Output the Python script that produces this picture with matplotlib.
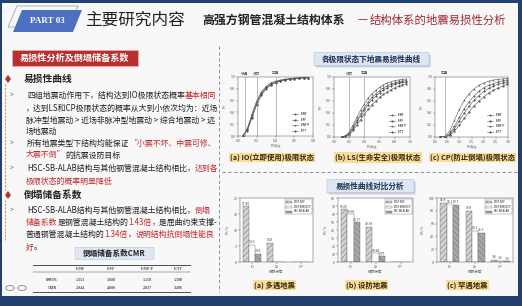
import numpy as np
import matplotlib
matplotlib.use("Agg")
import matplotlib.pyplot as plt
from matplotlib.patches import Rectangle, Polygon, FancyBboxPatch
from matplotlib.lines import Line2D

plt.rcParams['font.family'] = ['Noto Sans CJK SC', 'DejaVu Sans']
plt.rcParams['hatch.linewidth'] = 0.3

W, H = 522, 306
RED = '#c0282d'
DARK = '#222222'
NAVY = '#23416f'

# ---- 数据 ----
series_names = ['E-NF', 'E-FF', 'E-NF-P', 'E-TT']

io_x = [0.05, 0.1, 0.15, 0.2, 0.25, 0.3, 0.35, 0.4, 0.45, 0.5, 0.55, 0.6, 0.65, 0.7, 0.75]
io_nf = [0.0, 0.12, 0.36, 0.58, 0.73, 0.83, 0.89, 0.92, 0.94, 0.96, 0.97, 0.98, 0.98, 0.99, 0.99]
io_ff = [0.0, 0.10, 0.33, 0.55, 0.71, 0.81, 0.87, 0.91, 0.94, 0.95, 0.97, 0.97, 0.98, 0.99, 0.99]
io_nfp = [0.0, 0.13, 0.38, 0.60, 0.75, 0.84, 0.90, 0.93, 0.95, 0.96, 0.97, 0.98, 0.99, 0.99, 0.99]
io_tt = [0.0, 0.09, 0.31, 0.53, 0.69, 0.80, 0.86, 0.90, 0.93, 0.95, 0.96, 0.97, 0.98, 0.98, 0.99]

ls_x = [0.1, 0.15, 0.2, 0.25, 0.3, 0.35, 0.4, 0.45, 0.5, 0.55, 0.6, 0.65, 0.7, 0.75, 0.8, 0.85, 0.9, 0.95]
ls_nf = [0, 0.01, 0.06, 0.16, 0.28, 0.39, 0.49, 0.58, 0.66, 0.72, 0.77, 0.82, 0.85, 0.88, 0.90, 0.92, 0.93, 0.94]
ls_ff = [0, 0.01, 0.04, 0.11, 0.20, 0.29, 0.38, 0.46, 0.54, 0.60, 0.66, 0.71, 0.75, 0.79, 0.82, 0.85, 0.87, 0.89]
ls_nfp = [0, 0.02, 0.08, 0.20, 0.33, 0.45, 0.55, 0.65, 0.72, 0.78, 0.83, 0.87, 0.90, 0.92, 0.94, 0.95, 0.96, 0.97]
ls_tt = [0, 0.01, 0.05, 0.14, 0.25, 0.35, 0.45, 0.54, 0.62, 0.68, 0.74, 0.78, 0.82, 0.85, 0.88, 0.90, 0.91, 0.92]

cp_x = [0.2, 0.4, 0.6, 0.8, 1.0, 1.2, 1.4, 1.6, 1.8, 2.0, 2.2, 2.4, 2.6, 2.8, 2.95]
cp_nf = [0, 0.0, 0.06, 0.18, 0.33, 0.47, 0.59, 0.68, 0.76, 0.82, 0.86, 0.89, 0.92, 0.94, 0.95]
cp_ff = [0, 0, 0.03, 0.10, 0.20, 0.31, 0.42, 0.52, 0.60, 0.67, 0.73, 0.78, 0.82, 0.85, 0.88]
cp_nfp = [0, 0.01, 0.10, 0.28, 0.46, 0.61, 0.72, 0.80, 0.86, 0.90, 0.93, 0.95, 0.96, 0.97, 0.98]
cp_tt = [0, 0, 0.04, 0.14, 0.27, 0.40, 0.51, 0.61, 0.69, 0.76, 0.81, 0.85, 0.88, 0.90, 0.92]

states = ['IO', 'LS', 'CP']
struct_names = ['CFST-NCF', 'CFST-BRB-NCF', 'HSC-SB-ALAB']
minor_eq = [[17.40, 6.08, 0], [5.39, 0, 0], [2.63, 0, 0]]
design_eq = [[65.65, 43.98, 0], [59.68, 10.84, 0], [49.77, 7.07, 0]]
rare_eq = [[92.8, 79.8, 3.8], [90.1, 49.1, 1.9], [89.7, 45.3, 1.0]]

cmr_cols = ['E-NF', 'E-FF', 'E-NF-P', 'E-TT']
im50 = ['1.353', '1.600', '1.118', '1.398']
cmr = ['2.944', '4.000', '2.837', '3.496']

# ---- 画布 ----
fig = plt.figure(figsize=(W / 100, H / 100), dpi=100)
fig.patch.set_facecolor(NAVY)
renderer = fig.canvas.get_renderer()


def fx(x):
    return x / W


def fy(y):
    return 1 - y / H


def box(x0, y0, x1, y1, **kw):
    fig.add_artist(Rectangle((fx(x0), fy(y1)), fx(x1) - fx(x0), fy(y0) - fy(y1),
                             transform=fig.transFigure, **kw))


def hline(x0, x1, y, **kw):
    fig.add_artist(Line2D([fx(x0), fx(x1)], [fy(y), fy(y)], transform=fig.transFigure, **kw))


def vline(x, y0, y1, **kw):
    fig.add_artist(Line2D([fx(x), fx(x)], [fy(y0), fy(y1)], transform=fig.transFigure, **kw))


def rich(x, y, parts, size=5.7, weight='normal'):
    for s, c in parts:
        t = fig.text(fx(x), fy(y), s, color=c, fontsize=size, va='center', ha='left',
                     fontweight=weight)
        x += t.get_window_extent(renderer).width


# 白色幻灯片底
box(2, 3, 518, 296, facecolor='#f8f8f8', edgecolor='none', zorder=0)

# 标题栏
fig.add_artist(Polygon([(fx(8), fy(27)), (fx(17), fy(6)), (fx(78), fy(6)), (fx(69), fy(27))],
                       closed=True, transform=fig.transFigure, facecolor='none',
                       edgecolor='#9aa3b5', lw=0.6))
fig.add_artist(Polygon([(fx(13), fy(32)), (fx(22), fy(10)), (fx(82), fy(10)), (fx(73), fy(32))],
                       closed=True, transform=fig.transFigure, facecolor='#4d70c2',
                       edgecolor='none'))
fig.text(fx(47), fy(21), 'PART 03', color='white', fontsize=6.5, fontweight='bold',
         family='Liberation Serif', ha='center', va='center')
fig.text(fx(85), fy(20), '主要研究内容', fontsize=12, color=DARK, va='center')
fig.text(fx(202), fy(20), '高强方钢管混凝土结构体系', fontsize=8.6, fontweight='bold',
         color=DARK, va='center')
fig.text(fx(357), fy(20), '—', fontsize=8, color='#8a2030', va='center')
fig.text(fx(370), fy(20), '结构体系的地震易损性分析', fontsize=8.2, color='#9a2838', va='center')

# 左栏
box(12, 50, 138, 66, facecolor='#b8302e', edgecolor='#e7b0b0', lw=0.5)
fig.text(fx(75), fy(58), '易损性分析及倒塌储备系数', fontsize=6.6, fontweight='bold',
         color='white', ha='center', va='center')

for yb in (79, 195):
    fig.add_artist(Polygon([(fx(8), fy(yb - 4)), (fx(11), fy(yb)), (fx(8), fy(yb + 4)),
                            (fx(5), fy(yb))], transform=fig.transFigure,
                           facecolor='#b8302e', edgecolor='none'))
fig.text(fx(24), fy(79), '易损性曲线', fontsize=7, fontweight='bold', color=DARK, va='center')
fig.text(fx(24), fy(195), '倒塌储备系数', fontsize=7, fontweight='bold', color=DARK, va='center')
vline(5, 84, 190, color='#d05050', lw=0.5, ls=(0, (3, 2)))
vline(5, 200, 240, color='#d05050', lw=0.5, ls=(0, (3, 2)))

for yb in (95, 143, 168, 210):
    fig.text(fx(10), fy(yb), '>', fontsize=5, color='#666666', va='center')

rich(27, 95, [('四组地震动作用下，结构达到IO极限状态概率', DARK), ('基本相同', RED)])
rich(26, 108, [('，达到LS和CP极限状态的概率从大到小依次均为：近场', DARK)])
rich(26, 120, [('脉冲型地震动 > 近场非脉冲型地震动 > 综合地震动 > 远', DARK)])
rich(26, 131, [('场地震动', DARK)])
rich(27, 143, [('所有地震类型下结构均能保证', DARK), ('“小震不坏、中震可修、', RED)])
rich(26, 155, [('大震不倒”', RED), ('的抗震设防目标', DARK)])
rich(27, 168, [('HSC-SB-ALAB结构与其他钢管混凝土结构相比，', DARK), ('达到各', RED)])
rich(26, 181, [('极限状态的概率明显降低', RED)])
rich(27, 210, [('HSC-SB-ALAB结构与其他钢管混凝土结构相比，', DARK), ('倒塌', RED)])
rich(26, 222, [('储备系数', RED), ('是钢管混凝土结构的', DARK), ('1.43倍', RED),
               ('，是屈曲约束支撑-', DARK)])
rich(26, 234, [('普通钢管混凝土结构的', DARK), ('1.34倍', RED), ('，', DARK),
               ('说明结构抗倒塌性能良', RED)])
rich(26, 247, [('好', RED), ('。', DARK)])

# CMR 表
fig.add_artist(FancyBboxPatch((fx(76), fy(259)), fx(153) - fx(76), fy(248) - fy(259),
                              boxstyle='round,pad=0.002', transform=fig.transFigure,
                              facecolor='#dfe7f3', edgecolor='#b8c4d8', lw=0.4))
fig.text(fx(114), fy(253.5), '倒塌储备系数CMR', fontsize=5.5, fontweight='bold',
         color=DARK, ha='center', va='center')
hline(33, 190, 265, color='#333333', lw=0.6)
hline(33, 190, 272, color='#333333', lw=0.3)
hline(33, 190, 292, color='#333333', lw=0.6)
col_x = [80, 111, 147, 178]
for cx, c, a, b in zip(col_x, cmr_cols, im50, cmr):
    fig.text(fx(cx), fy(268.5), c, fontsize=3, family='Liberation Serif', ha='center', va='center')
    fig.text(fx(cx), fy(280), a, fontsize=3, family='Liberation Serif', ha='center', va='center')
    fig.text(fx(cx), fy(288), b, fontsize=3, family='Liberation Serif', ha='center', va='center')
fig.text(fx(52), fy(280), '$IM_{50\\%}$', fontsize=3, ha='center', va='center')
fig.text(fx(52), fy(288), 'CMR', fontsize=3, family='Liberation Serif', ha='center', va='center')
for cx in (10, 22):
    fig.add_artist(plt.Circle((fx(cx), fy(288)), 0.008, transform=fig.transFigure,
                              facecolor='none', edgecolor='#888888', lw=0.6))

# 右侧分隔线
vline(219, 46, 292, color='#6f7fa0', lw=0.6, ls=(0, (4, 3)))
hline(222, 518, 172, color='#6f7fa0', lw=0.6, ls=(0, (4, 3)))


def title_box(x0, x1, y0, y1, s):
    fig.add_artist(FancyBboxPatch((fx(x0) + 0.003, fy(y1) - 0.006), fx(x1) - fx(x0),
                                  fy(y0) - fy(y1), boxstyle='round,pad=0.002',
                                  transform=fig.transFigure, facecolor='#c9cfd9', edgecolor='none'))
    fig.add_artist(FancyBboxPatch((fx(x0), fy(y1)), fx(x1) - fx(x0), fy(y0) - fy(y1),
                                  boxstyle='round,pad=0.002', transform=fig.transFigure,
                                  facecolor='#dce6f4', edgecolor='#b5c2d6', lw=0.4))
    fig.text(fx((x0 + x1) / 2), fy((y0 + y1) / 2), s, fontsize=5.5, fontweight='bold',
             color='#1f2f4f', ha='center', va='center')


def caption(x0, x1, y, s):
    fig.text(fx((x0 + x1) / 2), fy(y), s, fontsize=5.3, fontweight='bold', color='#3a2a10',
             ha='center', va='center',
             bbox=dict(boxstyle='square,pad=0.15', facecolor='#f7dc9a', edgecolor='none'))


title_box(315, 428, 53, 65, '各极限状态下地震易损性曲线')
title_box(328, 413, 180, 192, '易损性曲线对比分析')

caption(232, 312, 157.5, '(a) IO(立即使用)极限状态')
caption(333, 423, 157.5, '(b) LS(生命安全)极限状态')
caption(428, 517, 157.5, '(c) CP(防止倒塌)极限状态')
caption(252, 297, 285, '(a) 多遇地震')
caption(343, 390, 285, '(b) 设防地震')
caption(442, 493, 285, '(c) 罕遇地震')


def sub_axes(x0, x1, y0, y1):
    ax = fig.add_axes([fx(x0), fy(y1), fx(x1) - fx(x0), fy(y0) - fy(y1)])
    ax.set_facecolor('white')
    for sp in ax.spines.values():
        sp.set_linewidth(0.35)
        sp.set_color('#555555')
    ax.tick_params(labelsize=2.6, length=1.2, width=0.3, pad=0.8, colors='#555555')
    return ax


markers = ['o', 's', '^', 'D']


def fragility(ax, x, ys, xlim, xticks, lines):
    for y, m, n in zip(ys, markers, series_names):
        ax.plot(x, y, color='#555555', lw=0.4, marker=m, ms=1.1, mew=0.2, label=n)
    ax.set_xlim(*xlim)
    ax.set_ylim(0, 1.0)
    ax.set_xticks(xticks)
    ax.set_yticks([0, 0.2, 0.4, 0.6, 0.8, 1.0])
    for xv, lab in lines:
        ax.axvline(xv, color='#888888', lw=0.4)
        ax.text(xv, 1.03, lab, fontsize=2.6, color='#555555', ha='center', va='bottom',
                transform=ax.get_xaxis_transform())
    ax.set_xlabel('PGA/g', fontsize=2.6, labelpad=0.8, color='#555555')
    ax.set_ylabel('$P_f$', fontsize=2.8, labelpad=0.8, color='#555555')
    ax.legend(loc='lower right', fontsize=2.2, frameon=False, handlelength=2.2,
              labelspacing=0.6)


ax = sub_axes(238, 313, 77, 136)
fragility(ax, io_x, [io_nf, io_ff, io_nfp, io_tt], (0, 0.8), [0, 0.2, 0.4, 0.6, 0.8],
          [(0.07, '多遇'), (0.2, '设防'), (0.4, '罕遇')])
ax = sub_axes(334, 410, 77, 137)
fragility(ax, ls_x, [ls_nf, ls_ff, ls_nfp, ls_tt], (0, 1.0), [0, 0.2, 0.4, 0.6, 0.8, 1.0],
          [(0.2, '设防'), (0.4, '罕遇')])
ax = sub_axes(435, 508, 77, 137)
fragility(ax, cp_x, [cp_nf, cp_ff, cp_nfp, cp_tt], (0, 3.0), [0, 0.5, 1.0, 1.5, 2.0, 2.5, 3.0],
          [(0.4, '罕遇')])

bar_faces = ['#d2d2d2', 'white', '#a8a8a8']
bar_hatch = ['//////', None, '\\\\\\\\\\\\']


def bars(ax, vals, ymax, ystep, fmt):
    xs = np.arange(len(states))
    w = 0.25
    for i, v in enumerate(vals):
        pos = xs + (i - 1) * w
        ax.bar(pos, v, w, color=bar_faces[i], hatch=bar_hatch[i], edgecolor='#666666',
               lw=0.3, label=struct_names[i])
        for p, val in zip(pos, v):
            if val > 0:
                ax.text(p, val + ymax * 0.01, fmt.format(val), fontsize=2.4, ha='center',
                        va='bottom', color='#444444')
    ax.set_xlim(-0.5, 2.5)
    ax.set_ylim(0, ymax)
    ax.set_yticks(np.arange(0, ymax + 0.1, ystep))
    ax.set_xticks(xs)
    ax.set_xticklabels(states)
    ax.set_xlabel('极限状态', fontsize=2.6, labelpad=0.8, color='#555555')
    ax.set_ylabel('$P_f$ /%', fontsize=2.6, labelpad=0.8, color='#555555')
    leg = ax.legend(loc='upper right', fontsize=1.8, handlelength=2.2, handleheight=0.9,
                    fancybox=False, borderpad=0.3, labelspacing=0.3)
    leg.get_frame().set_linewidth(0.3)
    leg.get_frame().set_edgecolor('#555555')


ax = sub_axes(240, 313, 198, 262)
bars(ax, minor_eq, 20, 5, '{:.2f}')
ax = sub_axes(338, 413, 198, 262)
bars(ax, design_eq, 80, 10, '{:.2f}')
ax = sub_axes(437, 513, 198, 262)
bars(ax, rare_eq, 100, 20, '{:.1f}')

fig.savefig('out.png', dpi=100, facecolor=fig.get_facecolor())
